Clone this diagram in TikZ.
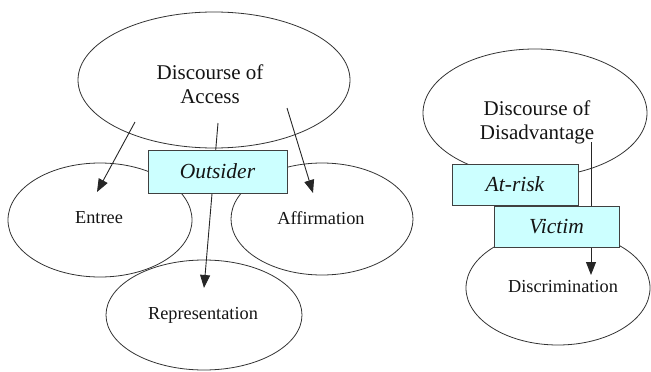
\documentclass[tikz,border=0pt]{standalone}
\usepackage{fontspec}
\setmainfont{Liberation Serif}
\usetikzlibrary{arrows.meta,shapes.geometric}
\definecolor{boxfill}{RGB}{204,255,255}
\definecolor{txt}{RGB}{20,20,20}
\begin{document}
\begin{tikzpicture}[x=1pt,y=-1pt,
  oval/.style={ellipse,draw=black!80,line width=0.8pt,inner sep=0pt},
  bigtext/.style={text=txt,align=center,font=\fontsize{21}{24}\selectfont},
  smalltext/.style={text=txt,align=center,font=\fontsize{18.3}{22}\selectfont},
  tagbox/.style={draw=black!75,line width=0.8pt,fill=boxfill,inner sep=0pt,
    text=txt,font=\fontsize{21.5}{25}\selectfont\itshape},
  conn/.style={draw=black!85,line width=0.9pt,-{Triangle[length=13pt,width=10pt]}}]
\useasboundingbox (0,0) rectangle (651,372);
% left group ellipses
\node[oval,minimum width=272pt,minimum height=136pt] (access) at (214,80) {};
\node[bigtext] (accesst) at (210,84) {Discourse of\\Access};
\node[oval,minimum width=184pt,minimum height=114pt] (entree) at (100,220) {};
\node[smalltext] (entreet) at (99,218) {Entree};
\node[oval,minimum width=182pt,minimum height=112pt] (affirm) at (322,219) {};
\node[smalltext] (affirmt) at (321,218) {Affirmation};
\node[oval,minimum width=196pt,minimum height=110pt] (repr) at (204,315) {};
\node[smalltext] (reprt) at (203,315) {Representation};
% right group ellipses
\node[oval,minimum width=224pt,minimum height=128pt] (disadv) at (535,113) {};
\node[bigtext] (disadvt) at (537,122) {Discourse of\\Disadvantage};
\node[oval,minimum width=184pt,minimum height=114pt] (discr) at (558,288) {};
\node[smalltext] (discrt) at (563,287) {Discrimination};
% connector end points
\coordinate (a1) at (135,122); \coordinate (e1) at (97,192);
\coordinate (a2) at (218,123); \coordinate (r1) at (204,288);
\coordinate (a3) at (287,108); \coordinate (f1) at (313,193);
\coordinate (d1) at (591,142); \coordinate (c1) at (591,275);
\draw[conn] (a1) -- (e1);
\draw[conn] (a2) -- (r1);
\draw[conn] (a3) -- (f1);
\draw[conn] (d1) -- (c1);
% tag boxes
\node[tagbox,minimum width=139pt,minimum height=43pt] (outsider) at (217.5,171.5) {Outsider};
\node[tagbox,minimum width=126pt,minimum height=41pt] (atrisk) at (515,184.5) {At-risk};
\node[tagbox,minimum width=125pt,minimum height=41pt] (victim) at (556.5,226.5) {Victim};
\end{tikzpicture}
\end{document}
